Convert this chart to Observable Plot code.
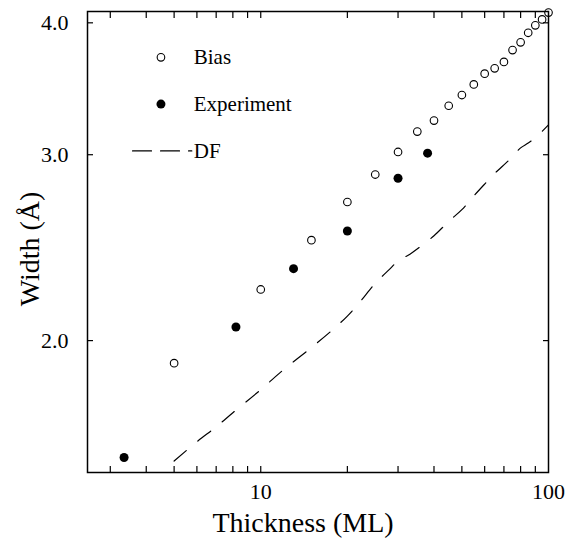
<!DOCTYPE html>
<html><head><meta charset="utf-8">
<script src="https://cdn.jsdelivr.net/npm/d3@7"></script>
<script src="https://cdn.jsdelivr.net/npm/@observablehq/plot@0.6"></script>
<style>
body{margin:0;background:#fff}
svg{display:block}
svg, svg text { font-family: "Liberation Serif", "Times New Roman", serif !important; }
</style>
</head><body><div id="chart"></div>
<script>
// Bias (open circles)
const biasX = [5, 10, 15, 20, 25, 30, 35, 40, 45, 50, 55, 60, 65, 70, 75, 80, 85, 90, 95, 100];
const biasY = [1.904, 2.236, 2.49, 2.706, 2.873, 3.018, 3.155, 3.232, 3.338, 3.417, 3.497, 3.58, 3.622, 3.673, 3.769, 3.833, 3.914, 3.978, 4.03, 4.09];
// Experiment (filled circles)
const expX = [3.35, 8.2, 13, 20, 30, 38];
const expY = [1.55, 2.06, 2.34, 2.54, 2.85, 3.01];
// DF (dashed line)
const dfX = [5, 6, 7, 8, 10, 12, 15, 18, 20, 22, 25, 28, 30, 33, 36, 40, 45, 50, 55, 60, 65, 70, 75, 80, 85, 90, 100];
const dfY = [1.538, 1.604, 1.657, 1.709, 1.797, 1.877, 1.970, 2.054, 2.110, 2.172, 2.266, 2.336, 2.379, 2.415, 2.457, 2.514, 2.594, 2.661, 2.742, 2.814, 2.880, 2.934, 2.987, 3.045, 3.077, 3.113, 3.202];
// Axis ticks
const xMinorTicks = [3, 4, 5, 6, 7, 8, 9, 10, 20, 30, 40, 50, 60, 70, 80, 90];
const xLabelTicks = [10, 100];
const yTicks = [2.0, 3.0, 4.0];
// Legend
const legendLabels = ["Bias", "Experiment", "DF"];
const legendY = [3.71, 3.35, 3.025];
const legendSymbolX = 4.5;
const legendTextX = 5.85;
const legendLineX = [3.585, 5.76];

const bias = biasX.map((x, i) => ({x, y: biasY[i]}));
const exp = expX.map((x, i) => ({x, y: expY[i]}));
const df = dfX.map((x, i) => ({x, y: dfY[i]}));
const legend = legendLabels.map((label, i) => ({label, y: legendY[i]}));
const legendLine = legendLineX.map(x => ({x, y: legendY[2]}));

const font = "Liberation Serif";

const chart = Plot.plot({
  width: 566, height: 539,
  marginLeft: 87, marginRight: 18, marginTop: 11, marginBottom: 67,
  style: {fontFamily: font, background: "white", color: "black"},
  x: {type: "log", domain: [2.5, 100]},
  y: {type: "log", domain: [1.5, 4.1]},
  marks: [
    Plot.line(df, {x: "x", y: "y", stroke: "black", strokeWidth: 1.2, strokeDasharray: "16,15", curve: "catmull-rom"}),
    Plot.dot(bias, {x: "x", y: "y", r: 3.8, stroke: "black", strokeWidth: 1.1, fill: "white"}),
    Plot.dot(exp, {x: "x", y: "y", r: 4.5, fill: "black", stroke: "none"}),
    // ticks (inward)
    Plot.axisX({anchor: "bottom", ticks: xMinorTicks, tickSize: -6, text: null, label: null, strokeWidth: 1.2}),
    Plot.axisX({anchor: "top", ticks: xMinorTicks, tickSize: -6, text: null, label: null, strokeWidth: 1.2}),
    Plot.axisX({anchor: "bottom", ticks: xLabelTicks, tickSize: 0, tickPadding: 11, tickFormat: d => String(d), fontSize: 22, fontFamily: font, label: null}),
    Plot.axisY({anchor: "left", ticks: yTicks, tickSize: -6, text: null, label: null, strokeWidth: 1.2}),
    Plot.axisY({anchor: "right", ticks: yTicks, tickSize: -6, text: null, label: null, strokeWidth: 1.2}),
    Plot.axisY({anchor: "left", ticks: yTicks, tickSize: 0, tickPadding: 19, tickFormat: d => d.toFixed(1), fontSize: 22, fontFamily: font, label: null}),
    Plot.frame({stroke: "black", strokeWidth: 1.5}),
    // axis titles
    Plot.text(["Thickness (ML)"], {frameAnchor: "bottom", dy: 51, dx: -15, fontSize: 28, fontFamily: font, textAnchor: "middle", lineAnchor: "middle", text: d => d}),
    Plot.text(["Width (Å)"], {frameAnchor: "left", rotate: -90, dx: -57, dy: 7, fontSize: 28, fontFamily: font, textAnchor: "middle", lineAnchor: "middle", text: d => d}),
    // legend
    Plot.dot(legend.slice(0, 1), {x: legendSymbolX, y: "y", r: 3.8, stroke: "black", strokeWidth: 1.1, fill: "white"}),
    Plot.dot(legend.slice(1, 2), {x: legendSymbolX, y: "y", r: 4.5, fill: "black", stroke: "none"}),
    Plot.line(legendLine, {x: "x", y: "y", stroke: "black", strokeWidth: 1.2, strokeDasharray: "19,9"}),
    Plot.text(legend, {x: legendTextX, y: "y", text: "label", textAnchor: "start", fontSize: 21, fontFamily: font, lineAnchor: "middle"})
  ]
});
document.getElementById("chart").appendChild(chart);
</script>
</body></html>
